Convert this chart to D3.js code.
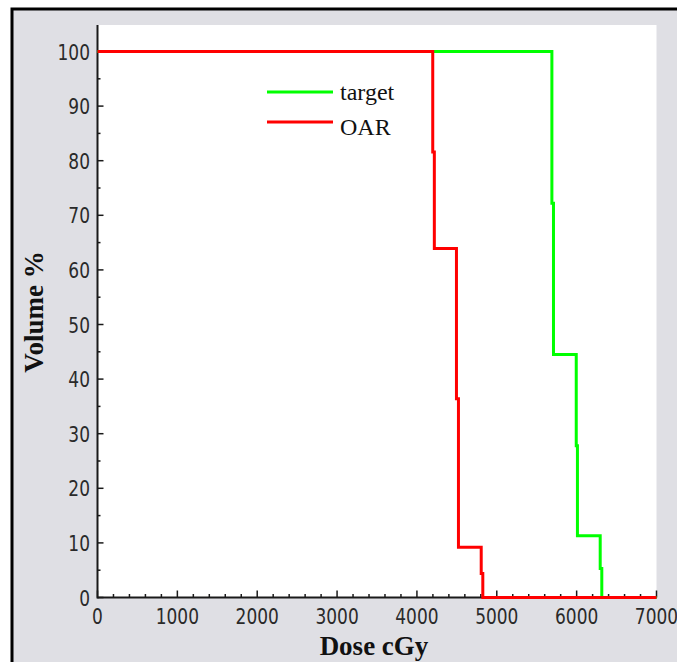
<!DOCTYPE html>
<html>
<head>
<meta charset="utf-8">
<script src="https://cdn.jsdelivr.net/npm/d3@7/dist/d3.min.js"></script>
<style>
  html, body { margin: 0; padding: 0; background: #ffffff; }
  svg { display: block; }
  .tick-label { font-family: "Liberation Sans Narrow", "Arial Narrow", "DejaVu Sans Condensed", sans-serif; font-size: 22px; fill: #2a2a2a; }
  .axis-title { font-family: "Liberation Serif", "Times New Roman", serif; font-weight: bold; font-size: 27px; fill: #111; }
  .legend-label { font-family: "Liberation Serif", "Times New Roman", serif; font-size: 24px; fill: #111; }
</style>
</head>
<body>
<svg id="chart" width="677" height="662"></svg>
<script>
// Dose-volume histogram: cumulative volume (%) against dose (cGy)
const seriesNames = ["target", "OAR"];
const seriesColors = ["#00ff00", "#ff0000"];

const targetDose   = [0,   5690, 5690, 5710, 5710, 5995, 5995, 6010, 6010, 6295, 6295, 6315, 6315, 7000];
const targetVolume = [100, 100,  72.2, 72.2, 44.5, 44.5, 27.8, 27.8, 11.3, 11.3, 5.3,  5.3,  0,    0];

const oarDose   = [0,   4198, 4198, 4218, 4218, 4495, 4495, 4520, 4520, 4805, 4805, 4825, 4825, 7000];
const oarVolume = [100, 100,  81.6, 81.6, 63.9, 63.9, 36.4, 36.4, 9.2,  9.2,  4.4,  4.4,  0,    0];

const xTicks = [0, 1000, 2000, 3000, 4000, 5000, 6000, 7000];
const yTicks = [0, 10, 20, 30, 40, 50, 60, 70, 80, 90, 100];
const xTitle = "Dose cGy";
const yTitle = "Volume %";

const svg = d3.select("#chart");

// outer frame
svg.append("rect").attr("x", 12).attr("y", 9).attr("width", 700).attr("height", 700)
  .attr("fill", "#dfdfe4").attr("stroke", "#000").attr("stroke-width", 3);

const x = d3.scaleLinear().domain([0, 7000]).range([97.5, 656.5]);
const y = d3.scaleLinear().domain([0, 100]).range([597.5, 51.5]);
const yTop = 25;

// plotting area
svg.append("rect").attr("x", x(0)).attr("y", yTop)
  .attr("width", x(7000) - x(0)).attr("height", y(0) - yTop).attr("fill", "#ffffff");

// axes
const axisColor = "#1a1a1a";
const gx = svg.append("g");
gx.append("line").attr("x1", x(0)).attr("x2", x(7000)).attr("y1", y(0)).attr("y2", y(0))
  .attr("stroke", axisColor).attr("stroke-width", 2);
d3.range(0, 7001, 200).forEach(v => {
  const major = v % 1000 === 0;
  gx.append("line").attr("x1", x(v)).attr("x2", x(v))
    .attr("y1", y(0)).attr("y2", y(0) - (major ? 7 : 3.5))
    .attr("stroke", axisColor).attr("stroke-width", 1.5);
});
xTicks.forEach(v => {
  gx.append("text").attr("class", "tick-label")
    .attr("transform", `translate(${x(v)},623.5) scale(0.86,1)`)
    .attr("text-anchor", "middle").text(v);
});

const gy = svg.append("g");
gy.append("line").attr("x1", x(0)).attr("x2", x(0)).attr("y1", yTop).attr("y2", y(0) + 1)
  .attr("stroke", axisColor).attr("stroke-width", 2);
d3.range(0, 101, 5).forEach(v => {
  const major = v % 10 === 0;
  gy.append("line").attr("x1", x(0)).attr("x2", x(0) + (major ? 6 : 3))
    .attr("y1", y(v)).attr("y2", y(v))
    .attr("stroke", axisColor).attr("stroke-width", 1.5);
});
yTicks.forEach(v => {
  gy.append("text").attr("class", "tick-label")
    .attr("transform", `translate(90,${y(v) + 8}) scale(0.86,1)`)
    .attr("text-anchor", "end").text(v);
});

// series, drawn over the axis lines
const series = [
  { dose: targetDose, vol: targetVolume },
  { dose: oarDose, vol: oarVolume }
];
const line = d3.line().x(d => x(d[0])).y(d => y(d[1]));
series.forEach((s, i) => {
  const pts = s.dose.map((d, j) => [d, s.vol[j]]);
  svg.append("path").datum(pts).attr("d", line)
    .attr("fill", "none").attr("stroke", seriesColors[i])
    .attr("stroke-width", 3).attr("stroke-linejoin", "miter");
});

// axis titles
svg.append("text").attr("class", "axis-title").attr("x", 374).attr("y", 655)
  .attr("text-anchor", "middle").text(xTitle);
svg.append("text").attr("class", "axis-title")
  .attr("transform", "translate(43,312) rotate(-90)")
  .attr("text-anchor", "middle").text(yTitle);

// legend
const legendY = [92, 122];
const legendText = [100, 135];
seriesNames.forEach((name, i) => {
  svg.append("line").attr("x1", 267).attr("x2", 333).attr("y1", legendY[i]).attr("y2", legendY[i])
    .attr("stroke", seriesColors[i]).attr("stroke-width", 3);
  svg.append("text").attr("class", "legend-label").attr("x", 340).attr("y", legendText[i]).text(name);
});
</script>
</body>
</html>
